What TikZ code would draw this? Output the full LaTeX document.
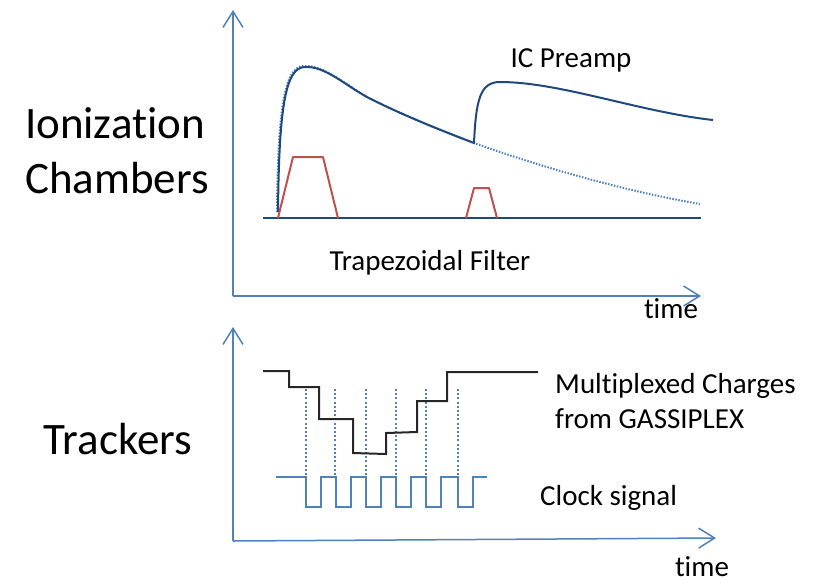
\documentclass[tikz,border=0pt]{standalone}
\usepackage{fontspec}
\setmainfont{Carlito}[Ligatures = {NoCommon, NoContextual}]
\usepackage{tikz}
\usetikzlibrary{arrows.meta}
\definecolor{lblue}{RGB}{79, 129, 189}
\definecolor{dblue}{RGB}{31, 73, 125}
\definecolor{tred}{RGB}{192, 80, 77}
\definecolor{dgray}{RGB}{38, 38, 38}
\tikzset{axis/.style = {lblue, line width = 1.5, -{Straight Barb[length = 16, width = 20, line width = 1.5]}}}
\tikzset{pulse/.style = {dblue, line width = 2}}
\tikzset{ideal/.style = {lblue, line width = 2, dash pattern = on 1.5 off 1.5}}
\tikzset{trap/.style = {tred, line width = 2, line join = round}}
\tikzset{stair/.style = {dgray, line width = 2}}
\tikzset{clock/.style = {lblue, line width = 2}}
\tikzset{strobe/.style = {lblue, line width = 2.5, dash pattern = on 2 off 2.2}}
\tikzset{big/.style = {font = \fontsize{45}{54}\selectfont, inner sep = 0}}
\tikzset{lab/.style = {font = \fontsize{29}{35}\selectfont, inner sep = 0}}

\begin{document}
\begin{tikzpicture}[x = 1pt, y = -1pt]
        \useasboundingbox (0, 0) rectangle (817, 582);
        \coordinate (o1) at (233, 296);
        \coordinate (y1) at (233, 10);
        \coordinate (x1) at (701, 296);
        \coordinate (o2) at (233, 541);
        \coordinate (y2) at (233, 327);
        \coordinate (x2) at (716, 538);
        \draw [axis] (o1) -- (y1);
        \draw [axis] (o1) -- (x1);
        \draw [axis] (o2) -- (y2);
        \draw [axis] (o2) -- (x2);
        \draw [pulse] (263, 218) -- (701, 218);
        \draw [ideal] (277, 212) .. controls (278, 110) and (284, 66) .. (304, 66)
          .. controls (324, 65) and (345, 84) .. (367, 97)
          .. controls (400, 114) and (440, 130) .. (474, 143)
          .. controls (550, 170) and (630, 192) .. (700, 204);
        \draw [pulse] (278, 212) .. controls (279, 110) and (285, 67) .. (305, 67)
          .. controls (325, 66) and (345, 85) .. (367, 97)
          .. controls (400, 114) and (440, 130) .. (474, 143)
          .. controls (476, 100) and (480, 82) .. (500, 82)
          .. controls (560, 82) and (640, 112) .. (713, 120);
        \draw [trap] (278, 218) -- (293, 157) -- (323, 157) -- (338, 218);
        \draw [trap] (466, 218) -- (474, 188) -- (489, 188) -- (497, 218);
        \draw [strobe] (306, 389) -- (306, 477);
        \draw [strobe] (335, 389) -- (335, 477);
        \draw [strobe] (366, 389) -- (366, 477);
        \draw [strobe] (396, 389) -- (396, 477);
        \draw [strobe] (426, 389) -- (426, 477);
        \draw [strobe] (458, 389) -- (458, 477);
        \draw [stair] (263, 371) -- (289, 371) -- (289, 387) -- (319, 387) -- (319, 419)
          -- (353, 419) -- (353, 453) -- (386, 454) -- (386, 433) -- (417, 432)
          -- (417, 401) -- (447, 401) -- (447, 372) -- (538, 372);
        \draw [clock] (276, 477) -- (306, 477) -- (306, 507) -- (321, 507) -- (321, 477)
          -- (336, 477) -- (336, 507) -- (351, 507) -- (351, 477)
          -- (366, 477) -- (366, 507) -- (381, 507) -- (381, 477)
          -- (396, 477) -- (396, 507) -- (411, 507) -- (411, 477)
          -- (426, 477) -- (426, 507) -- (441, 507) -- (441, 477)
          -- (458, 477) -- (458, 507) -- (473, 507) -- (473, 477) -- (487, 477);
        \node (ion) [big, anchor = base] at (115, 138) {Ionization};
        \node (cham) [big, anchor = base] at (117, 193) {Chambers};
        \node (trk) [big, anchor = base] at (118, 454) {Trackers};
        \node (pre) [lab, anchor = base] at (571, 67) {IC Preamp};
        \node (trapf) [lab, anchor = base] at (430, 270) {Trapezoidal Filter};
        \node (time1) [lab, anchor = base] at (671, 318) {time};
        \node (time2) [lab, anchor = base] at (702, 576) {time};
        \node (mux) [lab, anchor = base west] at (555, 393) {Multiplexed Charges};
        \node (gas) [lab, anchor = base west] at (555, 428) {from GASSIPLEX};
        \node (clk) [lab, anchor = base west] at (540, 505) {Clock signal};
\end{tikzpicture}
\end{document}
